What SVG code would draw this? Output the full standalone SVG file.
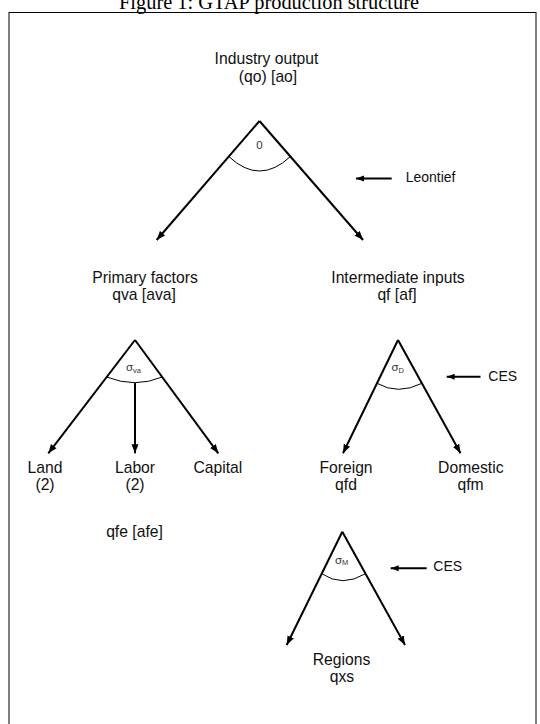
<svg xmlns="http://www.w3.org/2000/svg" width="540" height="724" viewBox="0 0 540 724">
<defs>
<marker id="ah" markerUnits="userSpaceOnUse" markerWidth="10" markerHeight="8" refX="9" refY="4" orient="auto">
<path d="M0,0.5 L9,4 L0,7.5 z" fill="#000"/>
</marker>
<marker id="ahs" markerUnits="userSpaceOnUse" markerWidth="9" markerHeight="7" refX="8" refY="3.5" orient="auto">
<path d="M0,0.5 L8,3.5 L0,6.5 z" fill="#000"/>
</marker>
</defs>
<style>
text { font-family: "Liberation Sans", Arial, sans-serif; fill: #111; }
.lbl { font-size: 15.7px; text-anchor: middle; }
.note { font-size: 14px; }
.sig { font-size: 11.5px; fill: #333; }
.sub { font-size: 7.5px; }
.title { font-family: "Liberation Serif", "DejaVu Serif", serif; font-size: 20.4px; text-anchor: middle; fill: #000; }
.main { stroke: #000; stroke-width: 2; fill: none; marker-end: url(#ah); }
.small { stroke: #000; stroke-width: 2; fill: none; marker-end: url(#ahs); }
.arc { stroke: #000; stroke-width: 1; fill: none; }
</style>
<rect width="540" height="724" fill="#fff"/>
<text class="title" x="269" y="8.5">Figure 1: GTAP production structure</text>
<rect x="9" y="12.5" width="527" height="720" fill="none" stroke="#000" stroke-width="1"/>

<g id="connectors">
<path class="main" d="M259.5,121 L156.7,240"/>
<path class="main" d="M259.5,121 L363,240"/>
<path class="arc" d="M228.8,156.5 Q259.5,185.5 290.4,156.5"/>

<path class="main" d="M135,340 L48.3,453.3"/>
<path class="main" d="M135,340 L218.3,453.3"/>
<path class="main" d="M135,383 L135,453.3"/>
<path class="arc" d="M106.7,377 Q135,388.4 162.2,377"/>

<path class="main" d="M398,340 L343,453.3"/>
<path class="main" d="M398,340 L460.5,453.3"/>
<path class="arc" d="M377,383.3 Q398,395.3 421.9,383.3"/>

<path class="main" d="M342.3,531.7 L286.7,645"/>
<path class="main" d="M342.3,531.7 L405,645"/>
<path class="arc" d="M321.7,573.7 Q342.3,587.7 365.5,573.7"/>

<path class="small" d="M391.7,178.5 L356,178.5"/>
<path class="small" d="M480.5,376.7 L446.7,376.7"/>
<path class="small" d="M426.7,568.3 L390.7,568.3"/>
</g>

<g id="industry-output">
<text class="lbl" x="266.5" y="63.5">Industry output</text>
<text class="lbl" x="268" y="82">(qo) [ao]</text>
<text class="sig" x="259.5" y="149" text-anchor="middle">0</text>
</g>
<g id="leontief"><text class="note" x="405.7" y="182">Leontief</text></g>

<g id="primary-factors">
<text class="lbl" x="145" y="282.5">Primary factors</text>
<text class="lbl" x="144" y="300">qva [ava]</text>
<text class="sig" x="126" y="371">σ<tspan class="sub" dy="1.5">va</tspan></text>
</g>
<g id="intermediate-inputs">
<text class="lbl" x="398" y="282.5">Intermediate inputs</text>
<text class="lbl" x="397" y="300">qf [af]</text>
<text class="sig" x="391.5" y="371">σ<tspan class="sub" dy="1.5">D</tspan></text>
</g>
<g id="ces-1"><text class="note" x="488.3" y="381">CES</text></g>

<g id="land">
<text class="lbl" x="45" y="472.5">Land</text>
<text class="lbl" x="45" y="490">(2)</text>
</g>
<g id="labor">
<text class="lbl" x="135" y="472.5">Labor</text>
<text class="lbl" x="135" y="490">(2)</text>
</g>
<g id="capital"><text class="lbl" x="217.8" y="472.5">Capital</text></g>
<g id="qfe"><text class="lbl" x="134.5" y="537">qfe [afe]</text></g>

<g id="foreign">
<text class="lbl" x="346" y="472.5">Foreign</text>
<text class="lbl" x="346" y="490">qfd</text>
<text class="sig" x="335" y="563.5">σ<tspan class="sub" dy="1.5">M</tspan></text>
</g>
<g id="domestic">
<text class="lbl" x="470.8" y="472.5">Domestic</text>
<text class="lbl" x="470.5" y="490">qfm</text>
</g>
<g id="ces-2"><text class="note" x="433.3" y="571">CES</text></g>

<g id="regions">
<text class="lbl" x="341.5" y="665">Regions</text>
<text class="lbl" x="342" y="682">qxs</text>
</g>
</svg>
